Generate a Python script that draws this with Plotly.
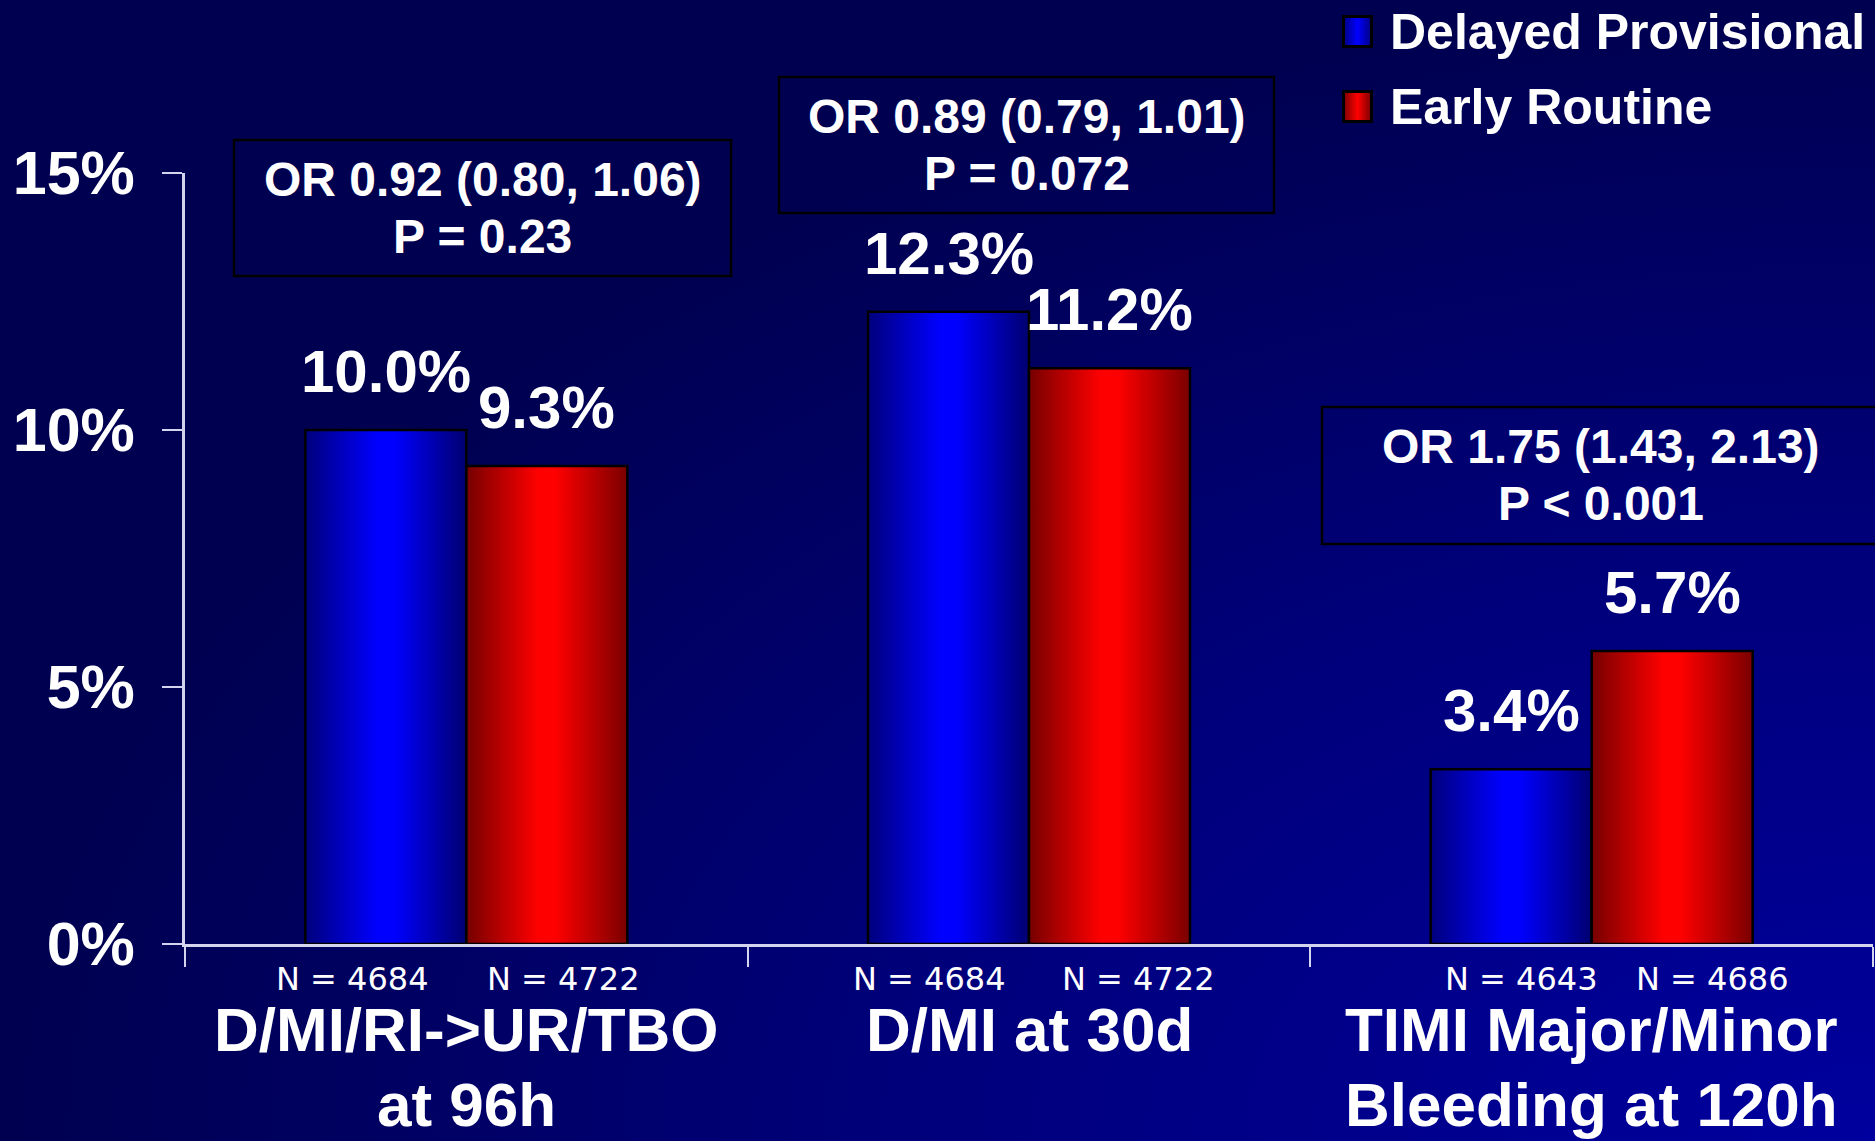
import base64
import plotly.graph_objects as go

# ---- data ----
categories = ["D/MI/RI->UR/TBO<br>at 96h", "D/MI at 30d", "TIMI Major/Minor<br>Bleeding at 120h"]
series_names = ["Delayed Provisional", "Early Routine"]
delayed_pct = [10.0, 12.3, 3.4]
early_pct = [9.3, 11.2, 5.7]
delayed_n = [4684, 4684, 4643]
early_n = [4722, 4722, 4686]
odds_ratio = ["OR 0.92 (0.80, 1.06)", "OR 0.89 (0.79, 1.01)", "OR 1.75 (1.43, 2.13)"]
p_values = ["P = 0.23", "P = 0.072", "P < 0.001"]
y_ticks = [0, 5, 10, 15]

# ---- page geometry ----
W, H = 1875, 1141
ML, MR, MT, MB = 185, 2, 173, 197
PW, PH = W - ML - MR, H - MT - MB


def px_x(px):
    return (px - ML) / PW


def px_y(py):
    return (H - MB - py) / PH


def esc(s):
    return s.replace("<", "&lt;").replace(">", "&gt;")


FONT = "Liberation Sans, Arial, sans-serif"
DESC = 0.212  # font descent as a fraction of the size
BAR_W = 161 / PW * 3  # bar width in category units

blue_scale = [[0, "#00007c"], [0.45, "#0000ff"], [0.55, "#0000ff"], [1, "#000070"]]
red_scale = [[0, "#760000"], [0.45, "#ff0000"], [0.55, "#ff0000"], [1, "#7a0000"]]

fig = go.Figure()

# bars drawn as filled outlines so they can carry a horizontal gradient
for values, scale, side, name in [(delayed_pct, blue_scale, -1, series_names[0]),
                                  (early_pct, red_scale, 1, series_names[1])]:
    for i, v in enumerate(values):
        x0 = i if side > 0 else i - BAR_W
        x1 = x0 + BAR_W
        fig.add_trace(go.Scatter(
            x=[x0, x0, x1, x1, x0], y=[0, v, v, 0, 0],
            mode="lines", fill="toself",
            fillgradient=dict(type="horizontal", colorscale=scale),
            line=dict(color="black", width=2.5),
            name=name, showlegend=False, hoverinfo="skip",
        ))
        fig.add_annotation(
            x=(x0 + x1) / 2, y=v, xref="x", yref="y",
            text=f"{v:.1f}%", showarrow=False, yanchor="bottom", yshift=23,
            font=dict(family=FONT, size=60, color="white", weight="bold"),
        )

# sample sizes under each bar
n_dx = [(-0.203, 0.172), (-0.176, 0.194), (-0.124, 0.215)]
for i in range(len(categories)):
    for n, dx in zip((delayed_n[i], early_n[i]), n_dx[i]):
        fig.add_annotation(
            x=i + dx, y=px_y(999), xref="x", yref="paper",
            text=f"N = {n}", showarrow=False, yanchor="bottom", borderpad=0,
            font=dict(family="DejaVu Sans, sans-serif", size=32, color="white"),
        )

# category names, one annotation per line
CAT_SIZE = 62
cat_baselines = [1052, 1127]
for i, c in enumerate(categories):
    for line, baseline in zip(c.split("<br>"), cat_baselines):
        fig.add_annotation(
            x=i, y=px_y(baseline + DESC * CAT_SIZE), xref="x", yref="paper",
            text=esc(line), showarrow=False, yanchor="bottom", borderpad=0,
            font=dict(family=FONT, size=CAT_SIZE, color="white", weight="bold"),
        )

# odds-ratio boxes, one annotation per text line
or_boxes = [(234, 140, 731, 276), (779, 77, 1274, 213), (1322, 407, 1882, 544)]
or_centers = [482.5, 1026.5, 1601]
OR_SIZE = 48
for (x0, y0, x1, y1), cx, orr, p in zip(or_boxes, or_centers, odds_ratio, p_values):
    fig.add_shape(type="rect", xref="paper", yref="paper",
                  x0=px_x(x0), x1=px_x(x1), y0=px_y(y1), y1=px_y(y0),
                  line=dict(color="black", width=2.5), fillcolor="rgba(0,0,0,0)")
    for k, line in enumerate((orr, p)):
        baseline = y0 + 57 + 57 * k
        fig.add_annotation(
            x=px_x(cx), y=px_y(baseline + DESC * OR_SIZE), xref="paper", yref="paper",
            showarrow=False, text=esc(line), xanchor="center", yanchor="bottom", borderpad=0,
            font=dict(family=FONT, size=OR_SIZE, color="white", weight="bold"),
        )


def svg_uri(svg):
    return "data:image/svg+xml;base64," + base64.b64encode(svg.encode()).decode()


# background: navy, lightening towards the lower right
bg_svg = (
    f'<svg xmlns="http://www.w3.org/2000/svg" width="{W}" height="{H}" viewBox="0 0 {W} {H}" '
    'preserveAspectRatio="none"><defs>'
    '<radialGradient id="g" cx="1" cy="1" r="1" gradientUnits="objectBoundingBox">'
    '<stop offset="0" stop-color="#00009e"/><stop offset="0.5" stop-color="#00007c"/>'
    '<stop offset="1" stop-color="#000050"/></radialGradient></defs>'
    f'<rect width="{W}" height="{H}" fill="url(#g)"/></svg>'
)
images = [dict(source=svg_uri(bg_svg), xref="paper", yref="paper",
               x=px_x(0), y=px_y(0), sizex=W / PW, sizey=H / PH,
               xanchor="left", yanchor="top", sizing="stretch", layer="below")]

# legend swatches and labels
for (dark, bright), top, name in [(("#000080", "#0000ff"), 15, series_names[0]),
                                   (("#780000", "#ff0000"), 90, series_names[1])]:
    sw = (
        '<svg xmlns="http://www.w3.org/2000/svg" width="31" height="33" viewBox="0 0 31 33">'
        '<defs><linearGradient id="s" x1="0" x2="1" y1="0" y2="0">'
        f'<stop offset="0" stop-color="{dark}"/><stop offset="0.5" stop-color="{bright}"/>'
        f'<stop offset="1" stop-color="{dark}"/></linearGradient></defs>'
        '<rect x="1.5" y="1.5" width="28" height="30" fill="url(#s)" stroke="black" stroke-width="3"/></svg>'
    )
    images.append(dict(source=svg_uri(sw), xref="paper", yref="paper",
                       x=px_x(1342), y=px_y(top), sizex=31 / PW, sizey=33 / PH,
                       xanchor="left", yanchor="top", sizing="stretch", layer="above"))
    fig.add_annotation(
        x=px_x(1388), y=px_y(top + 35 + 12), xref="paper", yref="paper",
        text=name, showarrow=False, xanchor="left", yanchor="bottom",
        font=dict(family=FONT, size=50, color="white", weight="bold"),
    )

axis_line = "#d4d4ee"
fig.update_layout(
    width=W, height=H,
    margin=dict(l=ML, r=MR, t=MT, b=MB, pad=0),
    paper_bgcolor="#000050", plot_bgcolor="rgba(0,0,0,0)",
    images=images,
    showlegend=False,
    xaxis=dict(range=[-0.5, 2.5], tickvals=[-0.5, 0.5, 1.5, 2.5], showticklabels=False,
               ticks="outside", ticklen=20, tickwidth=2, tickcolor=axis_line,
               showline=True, linecolor=axis_line, linewidth=3,
               showgrid=False, zeroline=False, fixedrange=True),
    yaxis=dict(range=[0, 15], tickvals=y_ticks, ticktext=[f"{t}%" for t in y_ticks],
               ticks="outside", ticklen=20, tickwidth=2, tickcolor=axis_line,
               ticklabelstandoff=15,
               tickfont=dict(family=FONT, size=61, color="white", weight="bold"),
               showline=True, linecolor=axis_line, linewidth=3,
               showgrid=False, zeroline=False, fixedrange=True),
)

fig.write_html("out.html")
